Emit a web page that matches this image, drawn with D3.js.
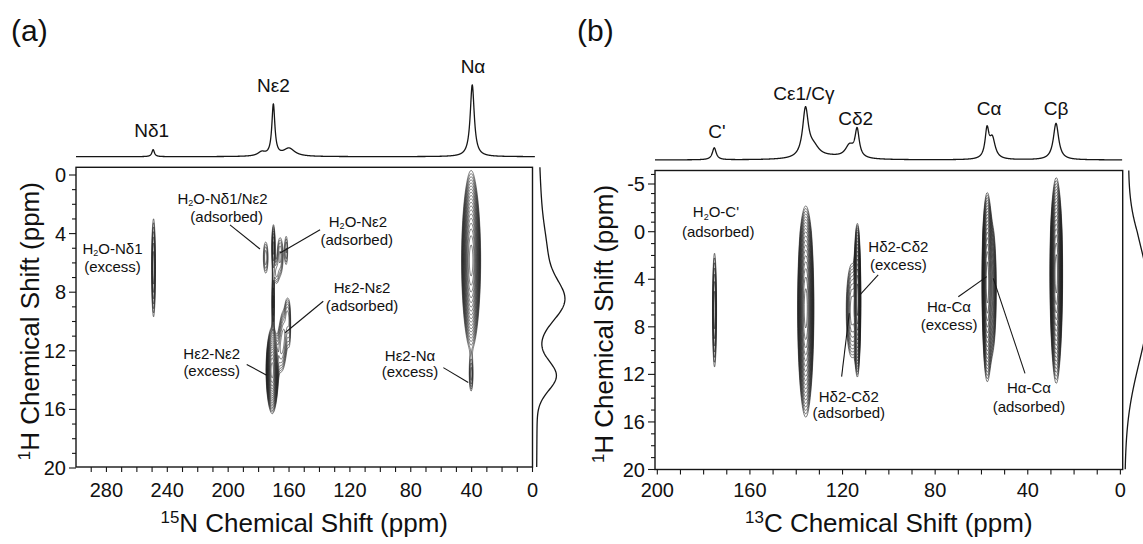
<!DOCTYPE html>
<html><head><meta charset="utf-8">
<script src="https://cdn.jsdelivr.net/npm/d3@7"></script>
<style>
body{margin:0;background:#fff}
svg{display:block}
text{font-family:"Liberation Sans",Arial,Helvetica,sans-serif;fill:#111}
</style></head><body>
<svg id="chart" width="1143" height="544"></svg>
<script>
// ================= DATA =================
// axis ticks
const xTicksA = [280, 240, 200, 160, 120, 80, 40, 0];
const yTicksA = [0, 4, 8, 12, 16, 20];
const xTicksB = [200, 160, 120, 80, 40, 0];
const yTicksB = [-5, 0, 4, 8, 12, 16, 20];

// 1D 15N spectrum (top of a): [ppm, height, half width]
const specA = [[249.3, 7, 1.0], [178, 4, 3], [170.3, 51, 1.2], [160, 8, 4.5], [39.6, 71.7, 1.6]];
// 1D 13C spectrum (top of b)
const specB = [[175.4, 12, 1.0], [136.0, 48, 1.5], [132.5, 10, 3], [125, 2.5, 8], [117, 12, 2.2],
               [113.7, 27.5, 1.1], [57.6, 28, 1.0], [55.3, 20, 1.5], [27.8, 36.5, 1.4]];
// 1H projections (right side): [ppm, height, sigma]
const projA = [[2.0, 2, 2.0], [5.5, 8, 1.8], [8.6, 25, 1.35], [13.7, 19, 1.0]];
const projB = [[5.4, 21, 4.3], [11, 4, 3.5]];

// 2D cross peaks: [X ppm, 1H ppm, sigmaX, sigmaH, amplitude, lorentz fraction]
const peaksA = [
  [249.2, 6.3, 0.8, 2.1, 3.5, 0.1],    // H2O-Nd1 (excess)
  [40.5, 5.8, 2.4, 2.2, 30, 0.1],      // Na
  [40.5, 13.6, 0.85, 0.8, 2.0, 0],     // He2-Na (excess)
  [171.2, 13.3, 1.6, 1.1, 25, 0.1],    // He2-Ne2 (excess)
  [170.6, 8.6, 0.5, 1.2, 3.0, 0],
  [170.4, 4.9, 0.7, 1.0, 3.2, 0],      // H2O-Nd1/Ne2 (adsorbed)
  [175.5, 5.6, 1.3, 0.9, 2.0, 0],
  [166.0, 5.5, 1.5, 1.0, 2.2, 0],
  [162.0, 5.1, 0.9, 0.9, 1.7, 0],
  [168.5, 6.7, 1.2, 0.6, 1.6, 0],
  [161.5, 9.4, 1.0, 0.8, 1.8, 0],      // He2-Ne2 (adsorbed)
  [163.5, 10.6, 1.8, 1.0, 2.4, 0],
  [165.5, 12.0, 2.0, 1.0, 2.6, 0],
  [160.0, 10.2, 0.8, 1.2, 1.6, 0]
];
const peaksB = [
  [175.4, 6.55, 0.55, 3.0, 3.5, 0.1],  // H2O-C'
  [136.0, 6.4, 1.35, 3.4, 30, 0.05],   // Ce1/Cg
  [113.7, 5.6, 0.6, 2.6, 20, 0.05],    // Hd2-Cd2 (excess)
  [116.0, 6.6, 1.4, 2.2, 5, 0],        // Hd2-Cd2 (adsorbed)
  [57.6, 4.2, 0.9, 3.2, 25, 0.05],     // Ha-Ca (excess)
  [55.6, 4.8, 1.0, 2.8, 6, 0],         // Ha-Ca (adsorbed)
  [27.8, 3.5, 1.05, 3.35, 30, 0.08]    // Cb
];

// labels
const topLabelsA = [["Nδ1", 250.3, 20], ["Nε2", 170.3, 65], ["Nα", 39.1, 83.7]];
const topLabelsB = [["C'", 174.2, 21.7], ["Cε1/Cγ", 136.7, 60], ["Cδ2", 114.3, 35], ["Cα", 56.7, 45], ["Cβ", 27.8, 45]];

const annotA = [
  ["H_2O-Nδ1", 276.0, 5.37], ["(excess)", 276.0, 6.62],
  ["H_2O-Nδ1/Nε2", 203.7, 1.97], ["(adsorbed)", 201.0, 3.22],
  ["H_2O-Nε2", 114.7, 3.54], ["(adsorbed)", 115.5, 4.75],
  ["Hε2-Nε2", 112.0, 8.05], ["(adsorbed)", 112.0, 9.30],
  ["Hε2-Nε2", 210.8, 12.59], ["(excess)", 210.8, 13.74],
  ["Hε2-Nα", 80.5, 12.70], ["(excess)", 80.5, 13.81]
];
const leadersA = [
  [198.8, 3.40, 179.1, 5.05],
  [139.6, 3.74, 165.9, 5.33],
  [137.5, 8.62, 162.6, 10.77],
  [187.8, 12.93, 174.7, 13.67],
  [58.6, 13.15, 42.2, 14.17]
];
const annotB = [
  ["H_2O-C'", 174.7, -1.50], ["(adsorbed)", 173.7, 0.45],
  ["Hδ2-Cδ2", 95.9, 1.68], ["(excess)", 95.9, 3.22],
  ["Hδ2-Cδ2", 117.3, 14.30], ["(adsorbed)", 117.3, 15.67],
  ["Hα-Cα", 74.0, 6.73], ["(excess)", 74.0, 8.27],
  ["Hα-Cα", 39.5, 13.59], ["(adsorbed)", 39.5, 15.14]
];
const leadersB = [
  [104.6, 3.64, 112.5, 5.32],
  [120.4, 12.19, 117.1, 6.86],
  [70.0, 5.47, 57.7, 3.78],
  [41.2, 11.91, 54.9, 3.92]
];

// ================= LAYOUT =================
const svg = d3.select("#chart");
const FA = {left: 76, right: 532.5, top: 167.3, bottom: 467};
const FB = {left: 655, right: 1122.7, top: 170.5, bottom: 469.5};

const xA = d3.scaleLinear().domain([300, 0]).range([FA.left, FA.right]);
const yA = d3.scaleLinear().domain([0, 20]).range([175, 468]);
const xB = d3.scaleLinear().domain([201, -1]).range([FB.left, FB.right]);
const yB = d3.scaleLinear().domain([-5, 0, 20]).range([184, 231.7, 469.5]);
const iA = d3.scaleLinear().domain([0, 100]).range([156.7, 56.7]);
const iB = d3.scaleLinear().domain([0, 100]).range([160, 60]);
const pScale = d3.scaleLinear().domain([0, 100]).range([0, 100]);

const INK = "#161616";

function rich(g, str, x, y, fs, anchor) {
  const t = g.append("text").attr("x", x).attr("y", y).attr("font-size", fs)
    .attr("text-anchor", anchor || "middle");
  const parts = str.split(/(_\d|\^\d+)/).filter(s => s.length);
  let shift = 0;
  parts.forEach(p => {
    if (p[0] === "_") {
      t.append("tspan").attr("font-size", fs * 0.6).attr("dy", fs * 0.16 - shift).text(p.slice(1));
      shift = fs * 0.16;
    } else if (p[0] === "^") {
      t.append("tspan").attr("font-size", fs * 0.65).attr("dy", -fs * 0.36 - shift).text(p.slice(1));
      shift = -fs * 0.36;
    } else {
      t.append("tspan").attr("dy", -shift).text(p);
      shift = 0;
    }
  });
  return t;
}

function lor(d, w) { return 1 / (1 + (d / w) * (d / w)); }

function drawContours(g, peaks, xs, ys, F) {
  const sx = 0.5, sy = 1;
  const nx = Math.ceil((F.right - F.left) / sx) + 1;
  const ny = Math.ceil((F.bottom - F.top) / sy) + 1;
  const vals = new Float64Array(nx * ny);
  const colP = Array.from({length: nx}, (_, i) => xs.invert(F.left + i * sx));
  const rowP = Array.from({length: ny}, (_, j) => ys.invert(F.top + j * sy));
  peaks.forEach(([c, h, sc, sh, amp, eta]) => {
    const gam = 1.1774 * sh;
    const fx = colP.map(p => Math.exp(-((p - c) ** 2) / (2 * sc * sc)));
    const fy = rowP.map(p => {
      const d = p - h;
      return (1 - eta) * Math.exp(-(d * d) / (2 * sh * sh)) + eta * lor(d, gam);
    });
    for (let i = 0; i < nx; i++) {
      if (fx[i] < 1e-5) continue;
      const a = amp * fx[i];
      for (let j = 0; j < ny; j++) vals[j * nx + i] += a * fy[j];
    }
  });
  const levels = d3.range(0, 26).map(k => Math.pow(1.2, k));
  const cs = d3.contours().size([nx, ny]).thresholds(levels)(vals);
  const path = d3.geoPath(d3.geoTransform({
    point: function (x, y) { this.stream.point(F.left + x * sx, F.top + y * sy); }
  }));
  g.selectAll("path.ct").data(cs).join("path").attr("class", "ct")
    .attr("d", path).attr("fill", "none").attr("stroke", "#1e1e1e").attr("stroke-width", 0.6);
}

function drawPanel(cfg) {
  const {F, xs, ys, is, spec, proj, peaks, xTicks, yTicks, xMinor, yMinor, topLabels, annots, leaders,
         projBase, xTitle, yTitle, yTitleX, letter, letterX, specDom} = cfg;
  const g = svg.append("g");

  // contours
  drawContours(g.append("g"), peaks, xs, ys, F);

  // frame
  g.append("rect").attr("x", F.left).attr("y", F.top).attr("width", F.right - F.left)
    .attr("height", F.bottom - F.top).attr("fill", "none").attr("stroke", INK).attr("stroke-width", 1.4);

  // x ticks
  g.selectAll("line.xm").data(xMinor).join("line")
    .attr("x1", d => xs(d)).attr("x2", d => xs(d)).attr("y1", F.bottom).attr("y2", F.bottom + 5)
    .attr("stroke", INK).attr("stroke-width", 1.1);
  g.selectAll("text.xt").data(xTicks).join("text").attr("class", "xt")
    .attr("x", d => xs(d)).attr("y", 497).attr("text-anchor", "middle").attr("font-size", 20).text(d => d);
  // y ticks
  g.selectAll("line.ym").data(yMinor).join("line")
    .attr("y1", d => ys(d)).attr("y2", d => ys(d))
    .attr("x1", d => F.left - (yTicks.includes(d) ? 7 : 4)).attr("x2", F.left)
    .attr("stroke", INK).attr("stroke-width", 1.1);
  g.selectAll("text.yt").data(yTicks).join("text").attr("class", "yt")
    .attr("x", F.left - 10).attr("y", d => ys(d)).attr("dy", "0.35em").attr("text-anchor", "end")
    .attr("font-size", 20).text(d => d);

  // titles
  rich(g, xTitle, (F.left + F.right) / 2, 532, 26, "middle");
  const yt = g.append("g").attr("transform", `translate(${yTitleX},${(F.top + F.bottom) / 2 + 4}) rotate(-90)`);
  rich(yt, yTitle, 0, 0, 26, "middle");
  g.append("text").attr("x", letterX).attr("y", 41).attr("font-size", 30).text(letter);

  // top 1D spectrum
  const pts = d3.range(specDom[0], specDom[1], -0.05).map(p => ({
    p, v: d3.sum(spec, ([c, a, w]) => a * lor(p - c, w))
  }));
  g.append("path").datum(pts).attr("fill", "none").attr("stroke", INK).attr("stroke-width", 1.3)
    .attr("d", d3.line().x(d => xs(d.p)).y(d => is(d.v)));
  topLabels.forEach(([t, p, v]) => {
    g.append("text").attr("x", xs(p)).attr("y", is(v)).attr("text-anchor", "middle")
      .attr("font-size", 19).text(t);
  });

  // right 1H projection
  const hDom = [ys.invert(F.top), ys.invert(F.bottom)];
  const hp = d3.range(hDom[0], hDom[1] + 0.001, 0.05).map(p => ({
    p, v: d3.sum(proj, ([c, a, s]) => a * Math.exp(-((p - c) ** 2) / (2 * s * s)))
  }));
  const base = d3.scaleLinear().domain([F.top, F.bottom]).range(projBase);
  g.append("path").datum(hp).attr("fill", "none").attr("stroke", INK).attr("stroke-width", 1.3)
    .attr("d", d3.line().x(d => base(ys(d.p)) + pScale(d.v)).y(d => ys(d.p)));

  // annotations
  annots.forEach(([t, p, h]) => rich(g, t, xs(p), ys(h), 15, "middle"));
  g.selectAll("line.ld").data(leaders).join("line")
    .attr("x1", d => xs(d[0])).attr("y1", d => ys(d[1])).attr("x2", d => xs(d[2])).attr("y2", d => ys(d[3]))
    .attr("stroke", INK).attr("stroke-width", 1.1);
}

drawPanel({
  F: FA, xs: xA, ys: yA, is: iA, spec: specA, proj: projA, peaks: peaksA,
  xTicks: xTicksA, yTicks: yTicksA, xMinor: d3.range(290, -1, -10), yMinor: d3.range(0, 21, 1),
  topLabels: topLabelsA, annots: annotA, leaders: leadersA, projBase: [539, 536.7],
  xTitle: "^15N Chemical Shift (ppm)", yTitle: "^1H Chemical Shift (ppm)", yTitleX: 39,
  letter: "(a)", letterX: 11, specDom: [300, -1.6]
});
drawPanel({
  F: FB, xs: xB, ys: yB, is: iB, spec: specB, proj: projB, peaks: peaksB,
  xTicks: xTicksB, yTicks: yTicksB, xMinor: d3.range(200, -1, -10), yMinor: d3.range(-6, 21, 1),
  topLabels: topLabelsB, annots: annotB, leaders: leadersB, projBase: [1128.3, 1125],
  xTitle: "^13C Chemical Shift (ppm)", yTitle: "^1H Chemical Shift (ppm)", yTitleX: 613,
  letter: "(b)", letterX: 577, specDom: [201, -0.8]
});
</script>
</body></html>
